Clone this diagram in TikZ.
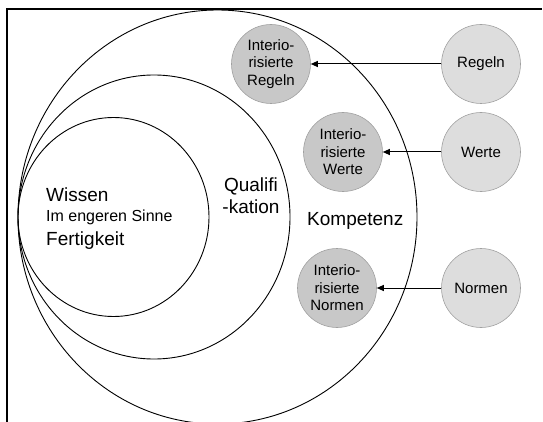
\documentclass[tikz,border=0pt]{standalone}
\usepackage{fontspec}
\setmainfont{Liberation Sans}
\usetikzlibrary{arrows.meta}
\definecolor{innerfill}{RGB}{200,200,200}
\definecolor{outerfill}{RGB}{221,221,221}
\definecolor{rimgrey}{RGB}{160,160,160}
\begin{document}
\begin{tikzpicture}[x=1pt,y=-1pt,
  ring/.style={draw=black,line width=0.9pt},
  ibubble/.style={circle,draw=rimgrey,line width=0.6pt,fill=innerfill,minimum size=79pt,inner sep=0pt,align=center,font=\fontsize{15}{17.5}\selectfont},
  obubble/.style={circle,draw=rimgrey,line width=0.6pt,fill=outerfill,minimum size=79pt,inner sep=0pt,align=center,font=\fontsize{15}{17.5}\selectfont},
  link/.style={line width=1pt,-{Triangle[length=7pt,width=6pt]}},
  big/.style={font=\fontsize{19}{22}\selectfont,inner sep=0pt},
  mid/.style={font=\fontsize{16}{19}\selectfont,inner sep=0pt}]
\useasboundingbox (0,0) rectangle (543,422);
\clip (0,0) rectangle (543,422);
% frame
\draw[line width=1.3pt] (7,425) -- (7,9) -- (542,9);
% nested circles
\draw[ring] (217.5,217) ellipse [x radius=199.5pt, y radius=207pt];
\draw[ring] (154,217) ellipse [x radius=136pt, y radius=142pt];
\draw[ring] (113.5,217) ellipse [x radius=95.5pt, y radius=99.5pt];
% labels
\node[big,anchor=base west] (wissen) at (46,201) {Wissen};
\node[mid,anchor=base west] (sinne) at (46,222) {Im engeren Sinne};
\node[big,anchor=base west] (fert) at (46,245) {Fertigkeit};
\node[big,align=center,anchor=base] (quali) at (251,213) {Qualifi\\-kation};
\node[big,anchor=base west] (komp) at (307,225) {Kompetenz};
% bubbles
\node[ibubble] (ir) at (271,64) {Interio-\\risierte\\Regeln};
\node[ibubble] (iw) at (343,152) {Interio-\\risierte\\Werte};
\node[ibubble] (in) at (337,288) {Interio-\\risierte\\Normen};
\node[obubble] (r) at (481,64) {Regeln};
\node[obubble] (w) at (481,152) {Werte};
\node[obubble] (n) at (481,288) {Normen};
% arrows
\draw[link] (r) -- (ir);
\draw[link] (w) -- (iw);
\draw[link] (n) -- (in);
\end{tikzpicture}
\end{document}
